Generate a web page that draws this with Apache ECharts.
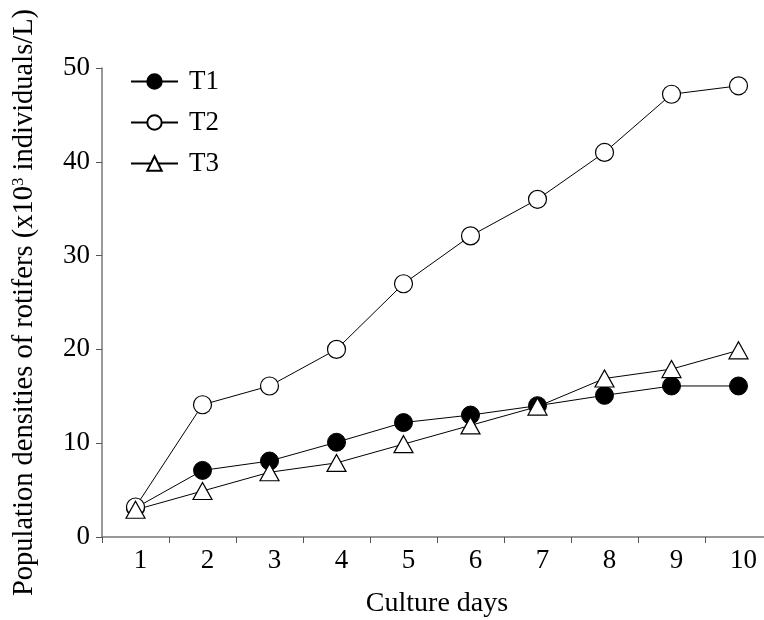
<!DOCTYPE html>
<html><head><meta charset="utf-8">
<script src="https://cdn.jsdelivr.net/npm/echarts@6/dist/echarts.min.js"></script>
<style>html,body{margin:0;padding:0;background:#fff}#c{width:764px;height:620px}</style>
</head><body><div id="c"></div>
<script>
const days = ['1','2','3','4','5','6','7','8','9','10'];
const t1 = [3.1, 7.1, 8.1, 10.1, 12.2, 13.0, 14.0, 15.1, 16.1, 16.1];
const t2 = [3.2, 14.1, 16.1, 20.0, 27.0, 32.1, 36.0, 41.0, 47.2, 48.1];
const t3 = [2.9, 4.9, 6.9, 7.9, 9.9, 11.9, 13.9, 16.9, 17.9, 19.9];
const seriesNames = ['T1','T2','T3'];

const font = 'Liberation Serif, Times New Roman, serif';
const chart = echarts.init(document.getElementById('c'));
const base = {type:'line', lineStyle:{color:'#000', width:1}, z:2, animation:false};
chart.setOption({
  animation:false,
  grid:{left:102, top:68, width:670, height:469, containLabel:false, outerBoundsMode:'none'},
  legend:{
    orient:'vertical', left:125, top:63, itemWidth:47, itemHeight:18, itemGap:14,
    textStyle:{fontFamily:font, fontSize:27, color:'#000', padding:[0,0,0,6]},
    data:seriesNames
  },
  xAxis:{
    type:'category', data:days, boundaryGap:true,
    name:'Culture days', nameLocation:'middle', nameGap:53,
    nameTextStyle:{fontFamily:font, fontSize:28, color:'#000'},
    axisLine:{lineStyle:{color:'#777', width:1.5}},
    axisTick:{show:true, length:6, lineStyle:{color:'#555'}},
    axisLabel:{fontFamily:font, fontSize:27, color:'#000', margin:10, padding:[0,0,0,10]},
    splitLine:{show:false}
  },
  yAxis:{
    type:'value', min:0, max:50, interval:10,
    name:'{a|Population densities of rotifers (x10}{s|3}{a| individuals/L)}',
    nameLocation:'middle', nameGap:63, nameRotate:90,
    nameTextStyle:{rich:{a:{fontFamily:font, fontSize:28.5, color:'#000'}, s:{fontFamily:font, fontSize:17, color:'#000', verticalAlign:'top', padding:[0,0,12,0]}}},
    axisLine:{show:true, lineStyle:{color:'#777', width:1.5}},
    axisTick:{show:true, length:6, lineStyle:{color:'#555'}},
    axisLabel:{fontFamily:font, fontSize:27, color:'#000', margin:12},
    splitLine:{show:false}
  },
  series:[
    Object.assign({}, base, {name:'T1', data:t1, symbol:'circle', symbolSize:18, itemStyle:{color:'#000', borderColor:'#000', borderWidth:1}}),
    Object.assign({}, base, {name:'T2', data:t2, symbol:'circle', symbolSize:18, itemStyle:{color:'#fff', borderColor:'#000', borderWidth:1.2}}),
    Object.assign({}, base, {name:'T3', data:t3, symbol:'triangle', symbolSize:[19,17], itemStyle:{color:'#fff', borderColor:'#000', borderWidth:1.2}})
  ]
});
</script></body></html>
